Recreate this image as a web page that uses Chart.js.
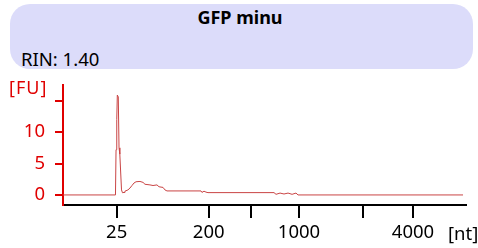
<!DOCTYPE html>
<html>
<head>
<meta charset="utf-8">
<script src="https://cdn.jsdelivr.net/npm/chart.js@4"></script>
<style>
  html, body { margin: 0; padding: 0; background: #fff; }
  #wrap { position: relative; width: 478px; height: 248px; overflow: hidden; font-family: "Noto Sans", sans-serif; }
  #panel { position: absolute; left: 10px; top: 4px; width: 463px; height: 65px; background: #dcdcfa; border-radius: 20px; }
  #title { position: absolute; left: 0; width: 480px; top: 5px; text-align: center; font-weight: bold; font-size: 18px; color: #000; }
  #rin { position: absolute; left: 21px; top: 46px; font-size: 18.5px; color: #000; }
  #fu { position: absolute; left: 9px; top: 75px; font-size: 18px; letter-spacing: 1px; color: #e00000; }
  #nt { position: absolute; left: 448px; top: 220px; font-size: 18.5px; color: #000; }
  canvas { position: absolute; left: 0; top: 0; }
</style>
</head>
<body>
<div id="wrap">
  <div id="panel"></div>
  <div id="title">GFP minu</div>
  <div id="rin">RIN: 1.40</div>
  <canvas id="chart" width="478" height="248"></canvas>
  <div id="fu">[FU]</div>
  <div id="nt">[nt]</div>
</div>
<script>
// migration time (s) and fluorescence (FU)
const timeS = [19, 25.51, 25.58, 25.67, 25.74, 25.86, 25.95, 26.05, 26.26, 26.38, 26.57, 26.69,
  27.06, 27.31, 27.56, 27.81, 28.06, 28.55, 28.93, 29.17, 29.79, 30.17, 30.66, 30.91, 31.41,
  31.65, 31.90, 36.12, 36.24, 36.49, 36.74, 36.99, 45.18, 45.43, 45.93, 46.42, 46.92, 47.42,
  47.91, 48.16, 68.63];
const fu = [0, 0, 7.2, 12, 15.9, 15.6, 7.5, 6.5, 0.8, 0.35, 0.4, 0.6,
  0.8, 1.1, 1.5, 1.9, 2.1, 2.15, 2.0, 1.7, 1.6, 1.5, 1.6, 1.3, 1.2,
  0.8, 0.64, 0.64, 0.4, 0.6, 0.45, 0.37, 0.37, 0.1, 0.3, 0.15, 0.3, 0.1,
  0.3, 0, 0];

// ladder positions on the time axis
const ladderNt = [25, 200, 500, 1000, 2000, 4000];
const ladderTime = [25.66, 37.08, 42.36, 48.28, 56.22, 62.42];
const ladderShown = [25, 200, 1000, 4000];

const yTicks = [0, 5, 10, 15];
const yShown = [0, 5, 10];

const points = timeS.map((t, i) => ({ x: t, y: fu[i] }));

new Chart(document.getElementById('chart'), {
  type: 'line',
  data: {
    datasets: [{
      data: points,
      borderColor: '#c94444',
      borderWidth: 1,
      pointRadius: 0,
      tension: 0,
      fill: false
    }]
  },
  options: {
    responsive: false,
    animation: false,
    layout: { padding: { left: 0, top: 85, right: 12, bottom: 0 } },
    plugins: { legend: { display: false }, tooltip: { enabled: false } },
    scales: {
      x: {
        type: 'linear',
        min: 19,
        max: 69,
        afterBuildTicks: s => { s.ticks = ladderTime.map(v => ({ value: v })); },
        afterFit: s => { s.height = 43; },
        ticks: {
          color: '#000',
          font: { family: 'Noto Sans', size: 18.5 },
          padding: 4,
          maxRotation: 0,
          autoSkip: false,
          callback: function(v, i) {
            const nt = ladderNt[i];
            return ladderShown.includes(nt) ? String(nt) : '';
          }
        },
        grid: { drawOnChartArea: false, tickLength: 13, color: '#000', lineWidth: 2 },
        border: { color: '#000', width: 2 }
      },
      y: {
        min: -1.6,
        max: 17.5,
        afterBuildTicks: s => { s.ticks = yTicks.map(v => ({ value: v })); },
        afterFit: s => { s.width = 63; },
        ticks: {
          color: '#e00000',
          font: { family: 'Noto Sans', size: 18.5 },
          padding: 10,
          callback: v => yShown.includes(v) ? String(v) : ''
        },
        grid: { drawOnChartArea: false, tickLength: 8, color: '#e00000', lineWidth: 2 },
        border: { color: '#e00000', width: 2 }
      }
    }
  }
});
</script>
</body>
</html>
